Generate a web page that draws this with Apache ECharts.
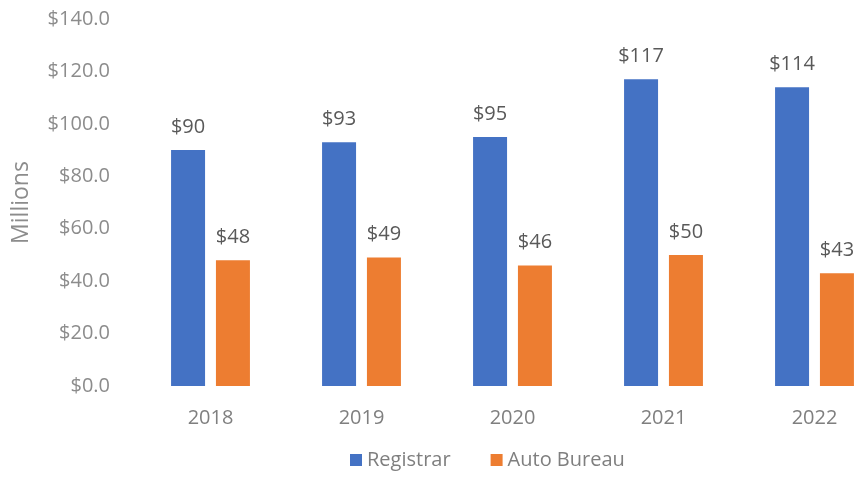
<!DOCTYPE html>
<html>
<head>
<meta charset="utf-8">
<script src="https://cdn.jsdelivr.net/npm/echarts@6/dist/echarts.min.js"></script>
<style>
  html, body { margin: 0; padding: 0; background: #fff; }
  #chart { width: 854px; height: 477px; }
</style>
</head>
<body>
<div id="chart"></div>
<script>
const years = ['2018', '2019', '2020', '2021', '2022']
const registrar = [90, 93, 95, 117, 114]
const autoBureau = [48, 49, 46, 50, 43]

const font = 'Open Sans'
const chart = echarts.init(document.getElementById('chart'))

const label = {
  show: true,
  position: 'top',
  distance: 13,
  color: '#595959',
  fontFamily: font,
  fontSize: 20,
  formatter: p => '$' + p.value
}

chart.setOption({
  animation: false,
  textStyle: { fontFamily: font },
  legend: {
    bottom: 2,
    left: 345,
    itemWidth: 12,
    itemHeight: 12,
    itemGap: 40,
    icon: 'rect',
    textStyle: { color: '#7f7f7f', fontSize: 20, fontFamily: font },
    data: ['Registrar', 'Auto Bureau']
  },
  // the plot runs past the right edge, as in the cropped original
  grid: { left: 135, width: 755, top: 19, height: 367, outerBoundsMode: 'none' },
  xAxis: {
    type: 'category',
    data: years,
    axisLine: { show: false },
    axisTick: { show: false },
    axisLabel: { color: '#7f7f7f', fontSize: 20, margin: 22 }
  },
  yAxis: {
    type: 'value',
    min: 0,
    max: 140,
    interval: 20,
    name: 'Millions',
    nameLocation: 'middle',
    nameGap: 102,
    nameTextStyle: { color: '#8c8c8c', fontSize: 23 },
    splitLine: { show: false },
    axisLabel: {
      color: '#8c8c8c',
      fontSize: 20,
      margin: 25,
      formatter: v => '$' + v.toFixed(1)
    }
  },
  series: [
    {
      name: 'Registrar',
      type: 'bar',
      data: registrar,
      barWidth: 34,
      barGap: '32%',
      itemStyle: { color: '#4472c4' },
      label
    },
    {
      name: 'Auto Bureau',
      type: 'bar',
      data: autoBureau,
      barWidth: 34,
      itemStyle: { color: '#ed7d31' },
      label
    }
  ]
})

window.addEventListener('resize', () => chart.resize())
</script>
</body>
</html>
